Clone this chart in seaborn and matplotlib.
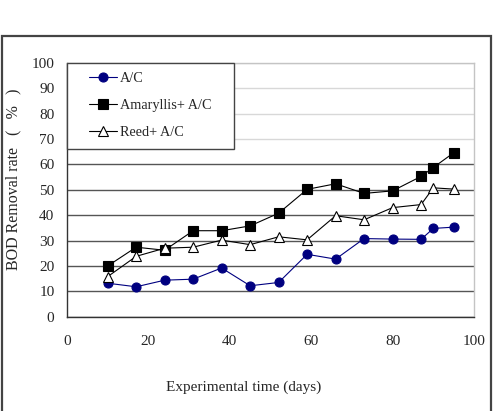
import numpy as np
import pandas as pd
import seaborn as sns
import matplotlib.pyplot as plt
from matplotlib.patches import Rectangle

# sampling days
days = [10, 17, 24, 31, 38, 45, 52, 59, 66, 73, 80, 87, 90, 95]

# BOD removal rate (%) per treatment
ac = [13.2, 11.8, 14.4, 14.8, 19.2, 12.2, 13.5, 24.6, 22.7, 30.8, 30.6, 30.5, 34.8, 35.3]
amaryllis_ac = [20.0, 27.4, 26.2, 33.9, 33.9, 35.8, 40.8, 50.2, 52.4, 48.6, 49.6, 55.3, 58.8, 64.6]
reed_ac = [15.8, 23.8, 27.0, 27.4, 30.2, 28.4, 31.5, 30.3, 39.8, 38.2, 43.0, 44.2, 50.8, 50.3]

series_names = ['A/C', 'Amaryllis+ A/C', 'Reed+ A/C']
x_ticks = [0, 20, 40, 60, 80, 100]
y_ticks = [0, 10, 20, 30, 40, 50, 60, 70, 80, 90, 100]

df = pd.DataFrame({'day': days * 3,
                   'rate': ac + amaryllis_ac + reed_ac,
                   'group': np.repeat(series_names, len(days))})

sns.set_style('white')
plt.rcParams['font.family'] = ['Liberation Serif', 'DejaVu Serif']

fig = plt.figure(figsize=(4.98, 4.11), dpi=100)
ax = fig.add_axes([0.1345, 0.2294, 0.8173, 0.6173])

styles = {
    'A/C': dict(color='#000080', marker='o', markerfacecolor='#000080',
                markeredgecolor='#000080', markersize=6.5),
    'Amaryllis+ A/C': dict(color='black', marker='s', markerfacecolor='black',
                           markeredgecolor='black', markersize=6.5),
    'Reed+ A/C': dict(color='black', marker='^', markerfacecolor='white',
                      markeredgecolor='black', markersize=7.5),
}

for name in series_names:
    sub = df[df['group'] == name]
    sns.lineplot(data=sub, x='day', y='rate', ax=ax, label=name,
                 linewidth=0.8, markeredgewidth=0.8, **styles[name])

ax.set_xlim(0, 100)
ax.set_ylim(0, 100)
ax.set_xticks(x_ticks)
ax.set_yticks(y_ticks)

# horizontal gridlines: dark in the lower part, pale in the upper part
ax.yaxis.grid(True)
for val, gl in zip(y_ticks, ax.get_ygridlines()):
    if val >= 70:
        gl.set_color('#d8d8d8')
    else:
        gl.set_color('#555555')
    gl.set_linewidth(1.0)
ax.set_axisbelow(True)

for side in ['top', 'right']:
    ax.spines[side].set_color('#c4c4c4')
    ax.spines[side].set_linewidth(1.0)
for side in ['left', 'bottom']:
    ax.spines[side].set_color('#333333')
    ax.spines[side].set_linewidth(1.0)

ax.tick_params(axis='x', direction='in', length=5, width=0.8, color='#333333',
               pad=13, labelsize=11)
ax.tick_params(axis='y', length=0, pad=9, labelsize=11)

ax.set_xlabel('Experimental time (days)', fontsize=11)
ax.set_ylabel('BOD Removal rate \u2002(\u2002\u2009%\u2002\u2009)', fontsize=11.5)
ax.xaxis.set_label_coords(0.435, -0.25)
ax.yaxis.set_label_coords(-0.113, 0.543)

# legend without its own frame, boxed below with wider side margins
ax_w_px = ax.get_window_extent().width
side_px = 13.0
leg = ax.legend(loc='upper left', bbox_to_anchor=(side_px / ax_w_px, 1),
                borderaxespad=0, frameon=False,
                fontsize=10.3, handlelength=1.9, handletextpad=0.25,
                labelspacing=0.97, borderpad=0.66)
leg.set_zorder(6)

fig.canvas.draw()
bb = leg.get_window_extent().transformed(ax.transAxes.inverted())
box = Rectangle((0, bb.y0), bb.x1 + side_px / ax_w_px, 1 - bb.y0,
                transform=ax.transAxes, facecolor='white', edgecolor='#444444',
                linewidth=1.0, zorder=5, clip_on=False)
ax.add_patch(box)

# outer chart frame
fig.add_artist(Rectangle((2 / 498, -0.1), 489 / 498, 1.012, fill=False,
                         transform=fig.transFigure, linewidth=1.6,
                         edgecolor='#444444', clip_on=False))

fig.savefig('out.png', dpi=100)
